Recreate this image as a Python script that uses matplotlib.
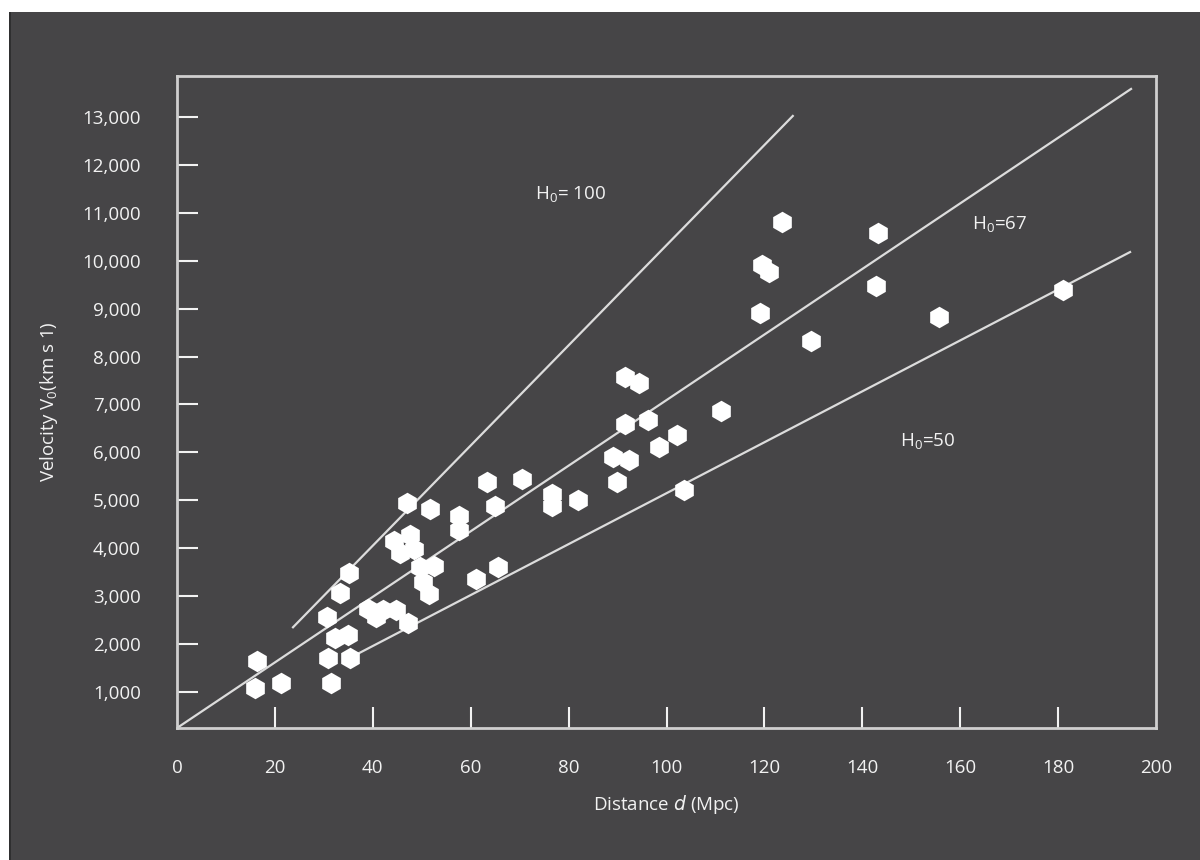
import matplotlib.pyplot as plt
from matplotlib.patches import Rectangle

plt.rcParams['font.family'] = ['Open Sans', 'DejaVu Sans']

# galaxies: distance (Mpc) and velocity (km/s)
dist = [16.3, 15.9, 21.2, 30.8, 31.5, 32.3, 34.9, 35.3, 30.6, 33.3,
        35.1, 39.0, 40.7, 42.1, 44.7, 47.2, 44.3, 45.6, 47.6, 48.4,
        47.0, 49.6, 50.3, 51.5, 52.5, 51.7, 57.6, 57.6, 61.1, 63.3,
        65.0, 65.6, 70.5, 76.6, 76.6, 81.9, 89.1, 89.9, 91.5, 94.4,
        91.5, 92.3, 96.2, 98.5, 102.1, 103.6, 111.1, 119.1, 119.5, 120.9,
        123.6, 129.5, 143.2, 142.8, 155.7, 181.0]
vel = [1650, 1085, 1190, 1710, 1190, 2125, 2190, 1710, 2565, 3065,
       3480, 2730, 2565, 2710, 2710, 2440, 4150, 3900, 4275, 3980,
       4945, 3610, 3295, 3045, 3630, 4820, 4670, 4380, 3355, 5380,
       4880, 3610, 5440, 5130, 4880, 5005, 5900, 5380, 7570, 7450,
       6590, 5840, 6675, 6115, 6365, 5215, 6865, 8910, 9910, 9760,
       10810, 8325, 10580, 9470, 8825, 9390]

# Hubble lines as drawn: (start d, end d), (start v, end v)
h100_d = [23.7, 125.8]
h100_v = [2350, 13020]
h67_d = [0.0, 194.9]
h67_v = [248, 13584]
h50_d = [37.0, 194.7]
h50_v = [1800, 10180]

x_ticks = [0, 20, 40, 60, 80, 100, 120, 140, 160, 180, 200]
y_ticks = [1000, 2000, 3000, 4000, 5000, 6000, 7000, 8000, 9000, 10000,
           11000, 12000, 13000]

bg = '#464547'
fg = '#f2f2f2'

fig = plt.figure(figsize=(12, 8.6), dpi=100, facecolor='white')
fig.patches.append(Rectangle((10 / 1200, 0), 1 - 10 / 1200, 1 - 12 / 860,
                             transform=fig.transFigure, facecolor=bg,
                             edgecolor='none', zorder=-2))
fig.patches.append(Rectangle((9 / 1200, 0), 2 / 1200, 1 - 12 / 860,
                             transform=fig.transFigure, facecolor='#2f2f30',
                             edgecolor='none', zorder=-1))

ax = fig.add_axes([177 / 1200, 132 / 860, 979 / 1200, 652 / 860])
ax.set_zorder(2)
ax.set_facecolor(bg)

line_kw = dict(color='#dcdcdc', lw=1.6, zorder=2)
ax.plot(h100_d, h100_v, **line_kw)
ax.plot(h67_d, h67_v, **line_kw)
ax.plot(h50_d, h50_v, **line_kw)

ax.plot(dist, vel, 'h', ms=15.5, color='white', mec='none', zorder=3)

lab_kw = dict(color=fg, fontsize=13.5, ha='center', va='center')
ax.text(80.3, 11370, r'H$_{\mathregular{0}}$= 100', **lab_kw)
ax.text(168, 10745, r'H$_{\mathregular{0}}$=67', **lab_kw)
ax.text(153.4, 6215, r'H$_{\mathregular{0}}$=50', **lab_kw)

ax.set_xlim(0, 200)
ax.set_ylim(248, 13854)
ax.set_xticks(x_ticks)
ax.set_xticklabels([str(t) for t in x_ticks])
ax.set_yticks(y_ticks)
ax.set_yticklabels(['{:,}'.format(t) for t in y_ticks])
ax.tick_params(axis='both', direction='in', length=15, width=1.5,
               color=fg, labelcolor=fg, labelsize=13.5)
ax.tick_params(axis='x', pad=22)
ax.tick_params(axis='y', pad=26)
xt = ax.xaxis.get_major_ticks()
xt[0].tick1line.set_visible(False)
xt[-1].tick1line.set_visible(False)

for s in ax.spines.values():
    s.set_color('#cfcfcf')
    s.set_linewidth(2)

ax.set_xlabel(r'Distance $\mathit{d}$ (Mpc)', color=fg, fontsize=13.5,
              labelpad=12)
ax.set_ylabel(r'Velocity V$_{\mathregular{0}}$(km s 1)', color=fg,
              fontsize=13.5, labelpad=16)

plt.savefig('out.png', dpi=100, facecolor=fig.get_facecolor())
